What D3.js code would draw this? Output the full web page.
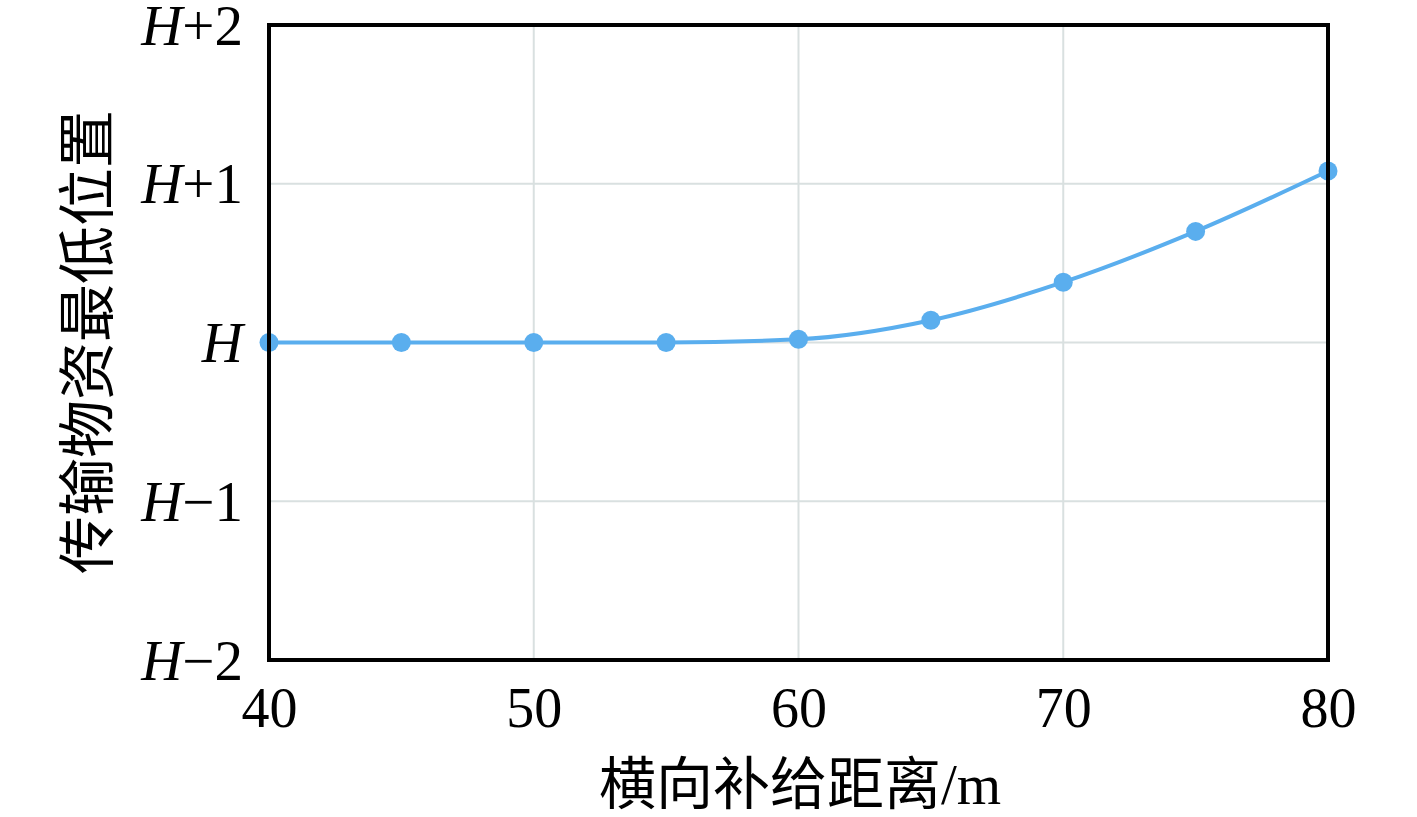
<!DOCTYPE html>
<html><head><meta charset="utf-8">
<script src="https://cdn.jsdelivr.net/npm/d3@7"></script>
<style>body{margin:0;background:#fff}</style>
</head><body>
<svg id="c" width="1417" height="817"></svg>
<script>
const xValues = [40, 45, 50, 55, 60, 65, 70, 75, 80];
const yValues = [0, 0, 0, 0, 0.02, 0.14, 0.38, 0.70, 1.08];
const xTicks = [40, 50, 60, 70, 80];
const yTicks = [-2, -1, 0, 1, 2];
const yTickLabels = ["H\u22122", "H\u22121", "H", "H+1", "H+2"];
const xTitle = "横向补给距离/m";
const yTitle = "传输物资最低位置";

const svg = d3.select("#c");
const L = 269, R = 1328, T = 25, B = 660;
const x = d3.scaleLinear().domain([40, 80]).range([L, R]);
const y = d3.scaleLinear().domain([-2, 2]).range([B, T]);
const serif = "'Liberation Serif','Times New Roman',serif";
const cjk = "'Noto Sans CJK SC','Liberation Serif',serif";

// grid
svg.append("g").selectAll("line").data(xTicks.slice(1, -1)).join("line")
  .attr("x1", d => x(d)).attr("x2", d => x(d)).attr("y1", T).attr("y2", B)
  .attr("stroke", "#d9e0e0").attr("stroke-width", 2);
svg.append("g").selectAll("line").data(yTicks.slice(1, -1)).join("line")
  .attr("y1", d => y(d)).attr("y2", d => y(d)).attr("x1", L).attr("x2", R)
  .attr("stroke", "#d9e0e0").attr("stroke-width", 2);

// line
const line = d3.line().x((d, i) => x(xValues[i])).y(d => y(d)).curve(d3.curveMonotoneX);
svg.append("path").datum(yValues).attr("d", line)
  .attr("fill", "none").attr("stroke", "#5aaeee").attr("stroke-width", 4);
svg.append("g").selectAll("circle").data(yValues).join("circle")
  .attr("cx", (d, i) => x(xValues[i])).attr("cy", d => y(d)).attr("r", 9.5)
  .attr("fill", "#5aaeee");

// frame
svg.append("rect").attr("x", L).attr("y", T).attr("width", R - L).attr("height", B - T)
  .attr("fill", "none").attr("stroke", "#000").attr("stroke-width", 4);

// x ticks
const xa = svg.append("g").attr("transform", `translate(0,${B})`)
  .call(d3.axisBottom(x).tickValues(xTicks).tickSize(0).tickPadding(0).tickFormat(d3.format("d")));
xa.select(".domain").remove();
xa.selectAll("text").attr("dy", null).attr("y", 67).attr("font-family", serif)
  .attr("font-size", 56).attr("fill", "#000");

// y ticks
const ya = svg.append("g").attr("transform", `translate(${L},0)`)
  .call(d3.axisLeft(y).tickValues(yTicks).tickSize(0).tickPadding(0).tickFormat(() => ""));
ya.select(".domain").remove();
ya.selectAll(".tick text").each(function(d) {
  const t = d3.select(this);
  const lbl = yTickLabels[yTicks.indexOf(d)];
  t.attr("x", -26).attr("dy", null).attr("y", 19).attr("font-family", serif)
   .attr("font-size", 57).attr("fill", "#000").attr("text-anchor", "end");
  t.append("tspan").attr("font-style", "italic").text(lbl[0]);
  if (lbl.length > 1) t.append("tspan").text(lbl.slice(1));
});

// titles
svg.append("text").attr("x", 800).attr("y", 804).attr("text-anchor", "middle")
  .attr("font-family", cjk).attr("font-size", 57).attr("fill", "#000")
  .call(t => {
    t.append("tspan").text(xTitle.replace("/m", ""));
    t.append("tspan").attr("font-family", serif).text("/m");
  });
svg.append("text").attr("transform", "translate(108,342) rotate(-90)")
  .attr("text-anchor", "middle").attr("font-family", cjk).attr("font-size", 58)
  .attr("fill", "#000").text(yTitle);
</script>
</body></html>
